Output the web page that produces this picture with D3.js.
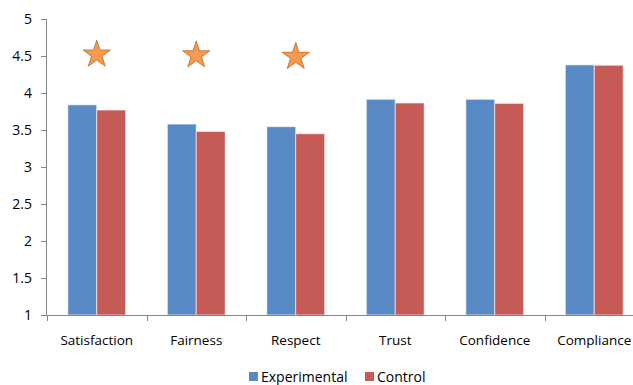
<!DOCTYPE html>
<html>
<head>
<meta charset="utf-8">
<script src="https://cdn.jsdelivr.net/npm/d3@7"></script>
<style>
  body { margin: 0; background: #fff; }
  text { font-family: "Open Sans", sans-serif; fill: #000; }
  .axis path, .axis line { stroke: #868686; }
</style>
</head>
<body>
<div id="chart"></div>
<script>
(function() {
    var categories = ["Satisfaction", "Fairness", "Respect", "Trust", "Confidence", "Compliance"];
    var experimental = [3.84, 3.58, 3.545, 3.915, 3.915, 4.38];
    var control = [3.77, 3.48, 3.45, 3.865, 3.86, 4.375];
    var seriesNames = ["Experimental", "Control"];
    var yTicks = [1, 1.5, 2, 2.5, 3, 3.5, 4, 4.5, 5];
    // significance stars: category and value where the star sits
    var starCats = ["Satisfaction", "Fairness", "Respect"];
    var starVals = [4.52, 4.51, 4.49];

    var width = 633, height = 385;
    var margin = {left: 47, top: 19, right: -11, bottom: 70};

    var colors = {Experimental: "#5a8ac6", Control: "#c65a57"};

    var svg = d3.select("#chart").append("svg")
        .attr("width", width)
        .attr("height", height);

    var xScale = d3.scaleBand()
        .domain(categories)
        .range([margin.left, width - margin.right]);

    var inner = d3.scaleBand()
        .domain(seriesNames)
        .range([0, xScale.bandwidth()])
        .paddingOuter(0.72);

    var yScale = d3.scaleLinear()
        .domain([1, 5])
        .range([height - margin.bottom, margin.top]);

    var data = categories.map(function(c, i) {
        return {cat: c, Experimental: experimental[i], Control: control[i]};
    });

    // bars
    var group = svg.selectAll(".group")
        .data(data)
        .enter().append("g")
        .attr("class", "group")
        .attr("transform", function(d) { return "translate(" + xScale(d.cat) + ",0)"; });

    group.selectAll("rect")
        .data(function(d) { return seriesNames.map(function(s) { return {key: s, value: d[s]}; }); })
        .enter().append("rect")
        .attr("x", function(d) { return inner(d.key); })
        .attr("width", inner.bandwidth())
        .attr("y", function(d) { return yScale(d.value); })
        .attr("height", function(d) { return yScale(1) - yScale(d.value); })
        .attr("fill", function(d) { return colors[d.key]; })
        .attr("stroke", "rgba(255,255,255,0.6)")
        .attr("stroke-width", 1);

    // y axis
    var yAxis = svg.append("g")
        .attr("class", "axis")
        .attr("transform", "translate(" + margin.left + ",0)")
        .call(d3.axisLeft(yScale).tickValues(yTicks).tickSize(6).tickPadding(9)
            .tickFormat(function(d) { return String(d); }));
    yAxis.select(".domain").attr("d", "M-0.5," + yScale(1) + "V" + yScale(5));
    yAxis.selectAll("text").style("font-size", "14px");

    // x axis
    var xAxis = svg.append("g")
        .attr("class", "axis")
        .attr("transform", "translate(0," + yScale(1) + ")");
    xAxis.append("line")
        .attr("x1", margin.left - 6).attr("x2", width)
        .attr("y1", 0.5).attr("y2", 0.5);
    var edges = categories.map(function(c) { return xScale(c); });
    xAxis.selectAll(".xtick")
        .data(edges)
        .enter().append("line")
        .attr("class", "xtick")
        .attr("x1", function(d) { return Math.round(d) + 0.5; })
        .attr("x2", function(d) { return Math.round(d) + 0.5; })
        .attr("y1", 0).attr("y2", 6);
    xAxis.selectAll(".xlabel")
        .data(categories)
        .enter().append("text")
        .attr("class", "xlabel")
        .attr("x", function(d) { return xScale(d) + xScale.bandwidth() / 2; })
        .attr("y", 30)
        .attr("text-anchor", "middle")
        .style("font-size", "13.5px")
        .text(function(d) { return d; });

    // stars
    var star = d3.symbol().type(d3.symbolStar).size(230);
    svg.selectAll(".star")
        .data(starCats)
        .enter().append("path")
        .attr("class", "star")
        .attr("d", star)
        .attr("transform", function(d, i) {
            return "translate(" + (xScale(d) + xScale.bandwidth() / 2) + "," + yScale(starVals[i]) + ")";
        })
        .attr("fill", "#f79a4f")
        .attr("stroke", "#c47a3c")
        .attr("stroke-width", 1);

    // legend
    var legend = svg.append("g").attr("transform", "translate(249,372)");
    var items = legend.selectAll(".item")
        .data(seriesNames)
        .enter().append("g")
        .attr("class", "item")
        .attr("transform", function(d, i) { return "translate(" + (i * 116) + ",0)"; });
    items.append("rect")
        .attr("width", 9).attr("height", 9)
        .attr("fill", function(d) { return colors[d]; });
    items.append("text")
        .attr("x", 12).attr("y", 9.5)
        .style("font-size", "14px")
        .text(function(d) { return d; });
})();
</script>
</body>
</html>
